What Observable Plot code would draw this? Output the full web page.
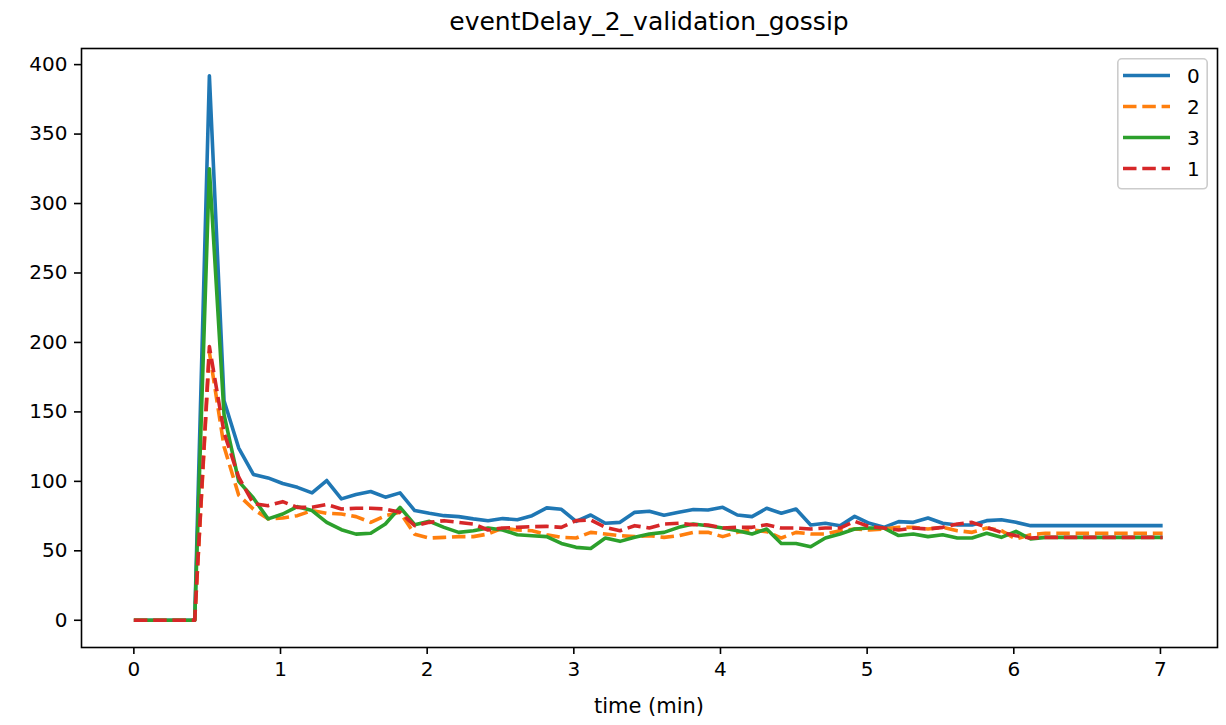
<!DOCTYPE html>
<html>
<head>
<meta charset="utf-8">
<script src="https://cdn.jsdelivr.net/npm/d3@7"></script>
<script src="https://cdn.jsdelivr.net/npm/@observablehq/plot@0.6"></script>
<style>
  html, body { margin: 0; padding: 0; background: white; }
  #root { position: relative; width: 1226px; height: 725px; font-family: "DejaVu Sans", sans-serif; color: black; }
  #title { position: absolute; left: 81px; width: 1136px; top: 8px; text-align: center; font-size: 25px; line-height: 28px; }
  #xlabel { position: absolute; left: 81px; width: 1136px; top: 694px; text-align: center; font-size: 21px; line-height: 24px; }
  #legend { position: absolute; left: 1117px; top: 58px; }
</style>
</head>
<body>
<div id="root">
  <div id="chart"></div>
  <div id="title"></div>
  <div id="xlabel"></div>
  <div id="legend"></div>
</div>
<script>
const titleText = "eventDelay_2_validation_gossip";
const xLabelText = "time (min)";

const times = [0, 0.115, 0.215, 0.315, 0.415, 0.515, 0.615, 0.715, 0.815, 0.915,
  1.015, 1.115, 1.215, 1.315, 1.415, 1.515, 1.615, 1.715, 1.815, 1.915,
  2.015, 2.115, 2.215, 2.315, 2.415, 2.515, 2.615, 2.715, 2.815, 2.915,
  3.015, 3.115, 3.215, 3.315, 3.415, 3.515, 3.615, 3.715, 3.815, 3.915,
  4.015, 4.115, 4.215, 4.315, 4.415, 4.515, 4.615, 4.715, 4.815, 4.915,
  5.015, 5.115, 5.215, 5.315, 5.415, 5.515, 5.615, 5.715, 5.815, 5.915,
  6.015, 6.115, 6.215, 6.315, 6.415, 6.515, 6.615, 6.715, 6.815, 6.915, 7.015];

const series0 = [0, 0, 0, 0, 0, 392, 158, 124, 105, 102.5,
  98.5, 95.7, 91.7, 100.6, 87.4, 90.5, 92.7, 88.6, 91.7, 79,
  77, 75.3, 74.6, 73, 71.7, 73.2, 72.4, 75.3, 80.9, 79.9,
  71.2, 75.8, 69.8, 70.5, 77.7, 78.5, 75.6, 77.7, 79.7, 79.4,
  81.3, 75.8, 74.6, 80.6, 77, 80.1, 68.6, 69.8, 68.1, 74.8,
  69.8, 66.9, 71, 70.5, 73.6, 69.8, 68.6, 68.6, 71.7, 72.4,
  70.5, 68.1, 68.1, 68.1, 68.1, 68.1, 68.1, 68.1, 68.1, 68.1, 68.1];

const series2 = [0, 0, 0, 0, 0, 193, 125, 90, 80, 73,
  73.6, 75.3, 79, 77, 76.5, 74.6, 70.5, 75.3, 77.7, 62,
  59.2, 59.7, 60.2, 60.2, 62.1, 66.4, 65, 64.5, 61.6, 59.7,
  59.2, 63.3, 62.1, 60.9, 60.2, 60.9, 59.7, 60.9, 63.3, 63.3,
  60.2, 63.3, 65, 63.8, 59.2, 63.3, 62.1, 62.1, 64.5, 65.7,
  65, 65.7, 66.9, 66.9, 65.7, 66.9, 64.5, 63.3, 66.4, 64.5,
  58.5, 61.6, 62.6, 62.6, 62.6, 62.6, 62.6, 62.6, 62.6, 62.6, 62.6];

const series3 = [0, 0, 0, 0, 0, 325, 148, 100, 88, 73,
  76.5, 81.8, 79, 70.5, 65.2, 62, 62.6, 69.3, 81.3, 68.8,
  71.2, 66.9, 63.3, 64.5, 66.4, 65, 61.6, 60.9, 60.2, 55.3,
  52.5, 51.7, 59.2, 56.8, 59.7, 62.1, 63.3, 66.9, 69.3, 68.1,
  66.4, 64.5, 62.1, 65.7, 55.3, 55.3, 52.9, 59.2, 62.1, 65.7,
  66.4, 66.4, 61, 62.1, 60.2, 61.6, 59.2, 59.2, 62.6, 59.7,
  64, 58.5, 59.7, 59.7, 59.7, 59.7, 59.7, 59.7, 59.7, 59.7, 59.7];

const series1 = [0, 0, 0, 0, 0, 197, 135, 103, 84, 82.5,
  85.4, 81.3, 81.3, 83.3, 80.1, 80.6, 80.6, 80.1, 77.7, 68.1,
  70.5, 71.7, 70.5, 69.3, 65, 66.4, 66.9, 67.4, 67.6, 66.9,
  71.7, 72.2, 66.9, 64.5, 68.1, 66.4, 69.3, 69.8, 68.8, 68.6,
  66.4, 66.9, 66.9, 68.8, 66.4, 66.4, 65.7, 66.4, 66.4, 71.2,
  67.4, 66.4, 65, 66.4, 65.7, 66.9, 69.3, 70.5, 66.9, 63.3,
  60.9, 59.2, 59.7, 59.7, 59.7, 59.7, 59.7, 59.7, 59.7, 59.7, 59.7];

const seriesNames = ["0", "2", "3", "1"];
const seriesValues = [series0, series2, series3, series1];
const seriesColors = ["#1f77b4", "#ff7f0e", "#2ca02c", "#d62728"];
const seriesDash = [null, "13.5,5.8", null, "13.5,5.8"];

const xTicks = [0, 1, 2, 3, 4, 5, 6, 7];
const yTicks = [0, 50, 100, 150, 200, 250, 300, 350, 400];

const lineMarks = seriesValues.map((vals, i) =>
  Plot.line(times.map((t, j) => ({t, v: vals[j], s: seriesNames[i]})), {
    x: "t", y: "v",
    stroke: seriesColors[i],
    strokeWidth: 3.6,
    strokeDasharray: seriesDash[i] || undefined,
    strokeLinejoin: "round",
    strokeLinecap: "butt"
  })
);

const chart = Plot.plot({
  width: 1226,
  height: 725,
  marginTop: 48,
  marginBottom: 78,
  marginLeft: 81,
  marginRight: 9,
  x: {domain: [-0.357, 7.389]},
  y: {domain: [-19.6, 411.6]},
  style: {fontFamily: "DejaVu Sans", fontSize: "20px", color: "black", background: "white", overflow: "visible"},
  marks: [
    ...lineMarks,
    Plot.frame({stroke: "black", strokeWidth: 1.6}),
    Plot.axisX(xTicks, {tickSize: 7, tickPadding: 7, strokeWidth: 1.6, fontSize: 20, label: null, tickFormat: d3.format("d")}),
    Plot.axisY(yTicks, {tickSize: 7, tickPadding: 7, strokeWidth: 1.6, fontSize: 20, label: null, tickFormat: d3.format("d")})
  ]
});
document.getElementById("chart").appendChild(chart);
document.getElementById("title").textContent = titleText;
document.getElementById("xlabel").textContent = xLabelText;

// Legend
const lg = d3.select("#legend").append("svg")
  .attr("width", 92).attr("height", 133)
  .style("overflow", "visible");
lg.append("rect").attr("x", 0.8).attr("y", 0.8).attr("width", 89.4).attr("height", 130)
  .attr("rx", 4).attr("fill", "rgba(255,255,255,0.8)").attr("stroke", "#cccccc").attr("stroke-width", 1.6);
seriesNames.forEach((name, i) => {
  const cy = 17.5 + i * 31;
  lg.append("line").attr("x1", 6).attr("x2", 53).attr("y1", cy).attr("y2", cy)
    .attr("stroke", seriesColors[i]).attr("stroke-width", 3.6)
    .attr("stroke-dasharray", seriesDash[i]).attr("stroke-linecap", "butt");
  lg.append("text").attr("x", 70).attr("y", cy).attr("dy", "0.36em")
    .attr("font-family", "DejaVu Sans").attr("font-size", 20).attr("fill", "black").text(name);
});
</script>
</body>
</html>
